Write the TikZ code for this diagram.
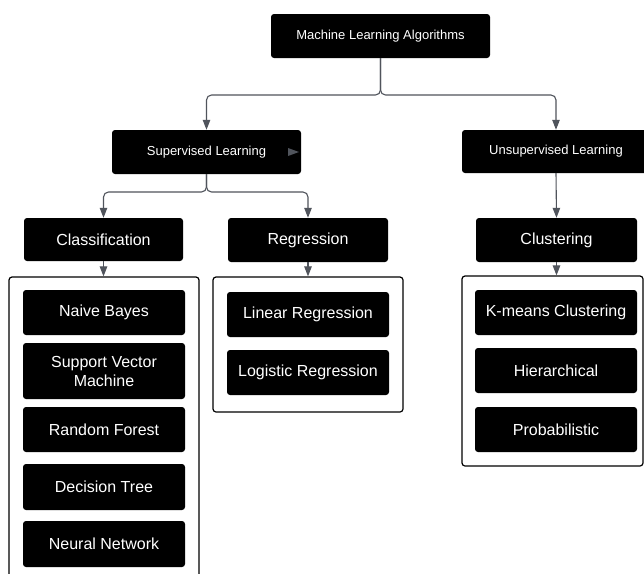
\documentclass[tikz,border=0pt]{standalone}
\usepackage{fontspec}
\setmainfont{Liberation Sans}
\usetikzlibrary{arrows.meta}
\definecolor{conn}{HTML}{50545C}
\tikzset{
  boxbig/.style={rectangle, rounded corners=3pt, fill=black, text=white, inner sep=0pt, font=\fontsize{16}{19}\selectfont, align=center},
  boxsmall/.style={rectangle, rounded corners=3pt, fill=black, text=white, inner sep=0pt, font=\fontsize{13}{15}\selectfont, align=center},
  container/.style={rectangle, rounded corners=3pt, draw=black, line width=1.2pt, fill=white, inner sep=0pt},
  connline/.style={draw=conn, line width=1.1pt, rounded corners=5pt},
  arr/.style={connline, -{Triangle[width=7.5pt,length=10pt]}},
}
\begin{document}
\begin{tikzpicture}[x=1pt,y=-1pt]
\useasboundingbox (0,0) rectangle (644,573);
\clip (0,0) rectangle (644,573);
\fill[white] (0,0) rectangle (644,573);

% containers
\node[container, minimum width=190pt, minimum height=308pt] (clsC) at (104,431) {};
\node[container, minimum width=190pt, minimum height=135pt] (regC) at (308,344.5) {};
\node[container, minimum width=181pt, minimum height=190pt] (cluC) at (552.5,371) {};

% top level
\node[boxsmall, minimum width=219pt, minimum height=44pt] (top) at (380.5,36) {Machine Learning Algorithms};
\node[boxsmall, minimum width=189pt, minimum height=44pt] (sup) at (206.5,152) {Supervised Learning};
\node[boxsmall, minimum width=188pt, minimum height=43pt] (unsup) at (556,151.5) {Unsupervised Learning};

% second level
\node[boxbig, minimum width=159pt, minimum height=43pt] (cls) at (103.5,239.5) {Classification};
\node[boxbig, minimum width=160pt, minimum height=44pt] (reg) at (308,240) {Regression};
\node[boxbig, minimum width=161pt, minimum height=44pt] (clu) at (556.5,240) {Clustering};

% classification items
\node[boxbig, minimum width=162pt, minimum height=45pt] (nb) at (104,312.5) {Naive Bayes};
\node[boxbig, minimum width=162pt, minimum height=56pt] (svm) at (104,371) {Support Vector\\Machine};
\node[boxbig, minimum width=162pt, minimum height=45pt] (rf) at (104,429.5) {Random Forest};
\node[boxbig, minimum width=162pt, minimum height=46pt] (dt) at (104,487) {Decision Tree};
\node[boxbig, minimum width=162pt, minimum height=46pt] (nn) at (104,544) {Neural Network};

% regression items
\node[boxbig, minimum width=162pt, minimum height=45pt] (lr) at (308,314.5) {Linear Regression};
\node[boxbig, minimum width=162pt, minimum height=45pt] (lgr) at (308,372.5) {Logistic Regression};

% clustering items
\node[boxbig, minimum width=162pt, minimum height=45pt] (km) at (556,312.5) {K-means Clustering};
\node[boxbig, minimum width=162pt, minimum height=45pt] (hi) at (556,370.5) {Hierarchical};
\node[boxbig, minimum width=162pt, minimum height=45pt] (pr) at (556,429.5) {Probabilistic};

% stray arrow tip inside the Supervised Learning box
\fill[conn] (288,148) -- (299,152) -- (288,156) -- cycle;

% connectors
\coordinate (fork1) at (380.5,95);
\coordinate (fork2) at (206.5,192);
\draw[arr] (top.south) -- (fork1) -| (sup.north);
\draw[arr] (top.south) -- (fork1) -| (unsup.north);
\draw[arr] (sup.south) -- (fork2) -| (cls.north);
\draw[arr] (sup.south) -- (fork2) -| (reg.north);
\draw[arr] (unsup.south) -- (clu.north);
\draw[arr] (cls.south) -- (cls.south |- clsC.north);
\draw[arr] (reg.south) -- (reg.south |- regC.north);
\draw[arr] (clu.south) -- (clu.south |- cluC.north);
\end{tikzpicture}
\end{document}
